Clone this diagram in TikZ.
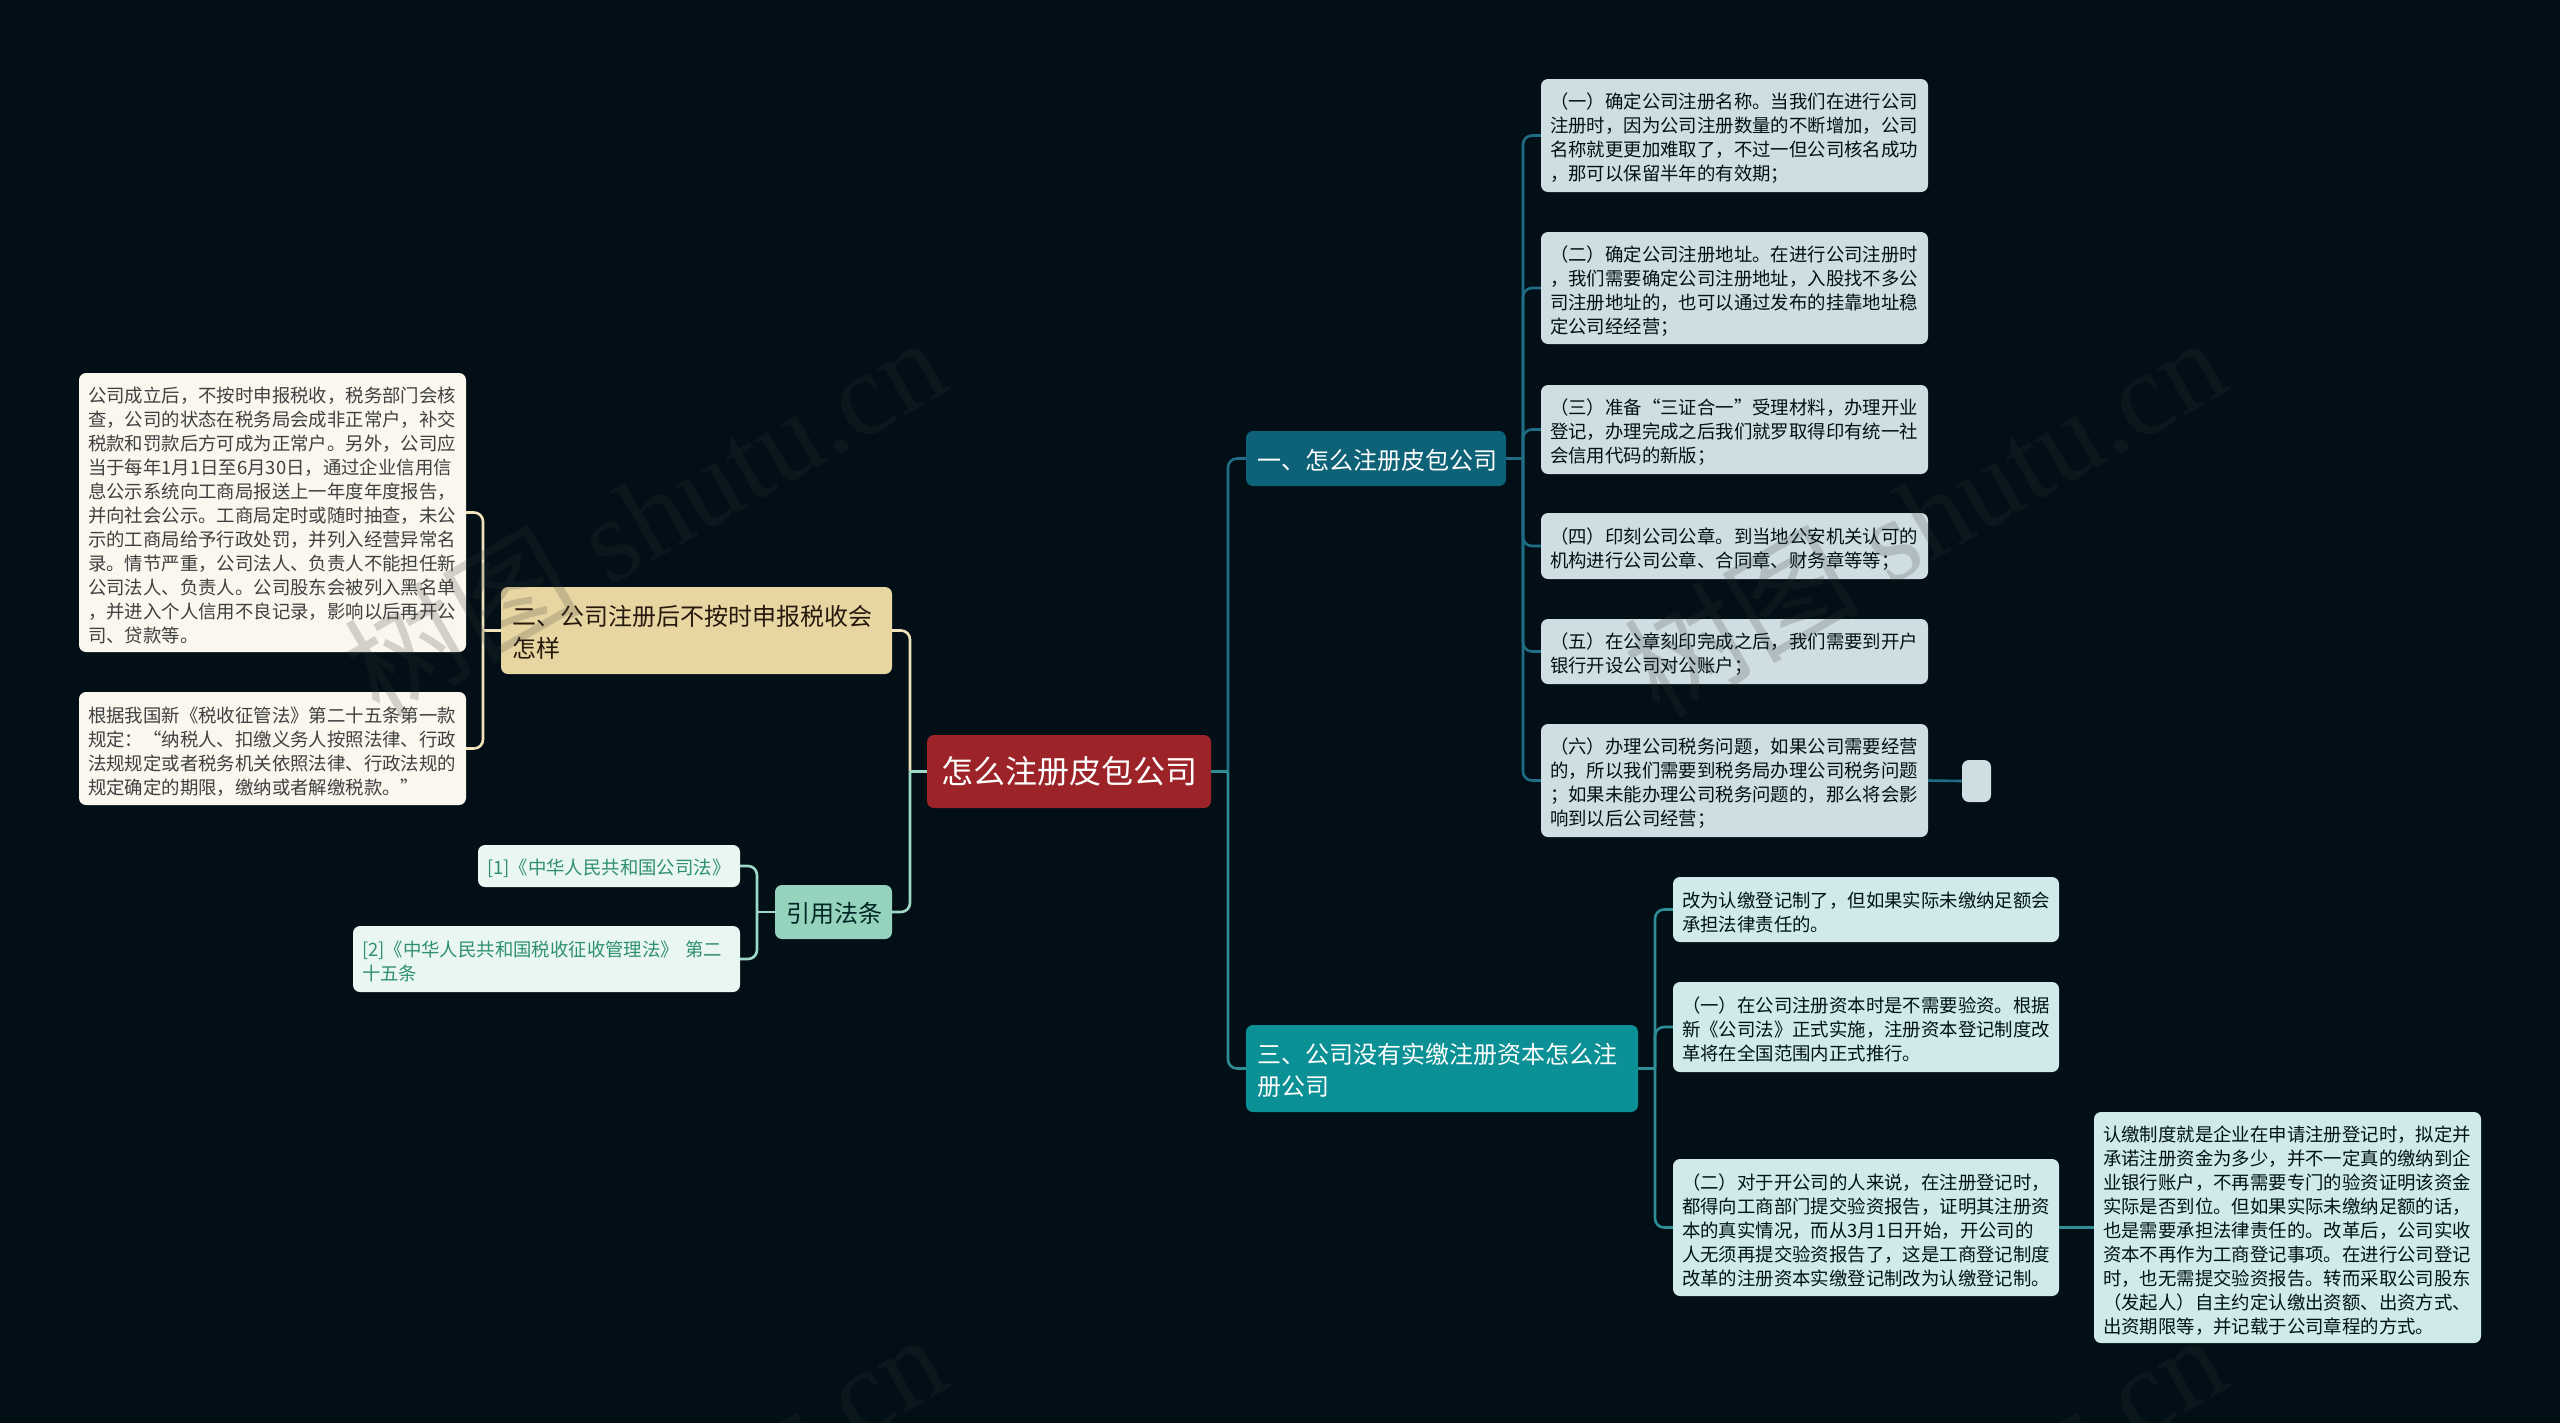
\documentclass[tikz,border=0pt]{standalone}
\usepackage{fontspec}
\setmainfont{Noto Sans CJK SC}
\newfontfamily\markfont{Liberation Serif}
\definecolor{pagebg}{HTML}{020F17}
\definecolor{rootred}{HTML}{9C2429}
\definecolor{tealdark}{HTML}{0D6278}
\definecolor{tealmid}{HTML}{0B9096}
\definecolor{sand}{HTML}{E8D6A2}
\definecolor{mint}{HTML}{95D3BC}
\definecolor{leafblue}{HTML}{CEDEE3}
\definecolor{leafaqua}{HTML}{D0E9EA}
\definecolor{leafcream}{HTML}{FAF7EF}
\definecolor{leafmint}{HTML}{E9F6F1}
\definecolor{lawtext}{HTML}{2F8F72}
\definecolor{linkdark}{HTML}{1F6D84}
\definecolor{linkmid}{HTML}{2F8D96}
\definecolor{linksand}{HTML}{F0E3BC}
\definecolor{linkmint}{HTML}{9ED8C6}
\tikzset{
	box/.style={rounded corners=7pt, align=left, inner ysep=0pt, inner xsep=9pt, text width=369pt,
		font=\fontsize{18.4}{24}\selectfont, execute at begin node={\rule{0pt}{21pt}}},
	leafa/.style={box, fill=leafblue, text=black!85!teal},
	leafb/.style={box, fill=leafaqua, text width=368pt, text=black!85!teal},
	leafl/.style={box, fill=leafcream, text=black!75},
	leafr/.style={box, fill=leafmint, text=lawtext},
	topic/.style={rounded corners=7pt, align=left, inner ysep=0pt, inner xsep=11pt,
		font=\fontsize{24}{32}\selectfont, execute at begin node={\rule{0pt}{24pt}}},
	linka/.style={draw=linkdark, line width=2.6pt, rounded corners=9pt},
	linkb/.style={draw=linkmid, line width=2.6pt, rounded corners=9pt},
	links/.style={draw=linksand, line width=2.6pt, rounded corners=9pt},
	linkm/.style={draw=linkmint, line width=2.6pt, rounded corners=9pt},
	wmark/.style={rotate=30, text=black!78, opacity=0.2, font=\fontsize{118}{118}\markfont},
}
\begin{document}
\begin{tikzpicture}[x=1pt, y=-1pt]
	\useasboundingbox (0,0) rectangle (2560,1422);
	\fill[pagebg] (-2,-2) rectangle (2562,1424);

	% Centre and first level
	\node[rounded corners=7pt, fill=rootred, text=white, font=\fontsize{32}{40}\selectfont, minimum width=284pt, minimum height=73pt, inner sep=0pt] (root) at (1069,771.5) {怎么注册皮包公司};
	\node[topic, fill=tealdark, text=white, minimum height=55pt, text width=238pt] (howto) at (1376,458.5) {一、怎么注册皮包公司};
	\node[topic, fill=tealmid, text=white, minimum height=87pt, text width=370pt] (capital) at (1442,1068.5) {三、公司没有实缴注册资本怎么注\\册公司};
	\node[topic, fill=sand, text=black!80!brown, minimum height=87pt, text width=369pt] (late) at (696.5,630.5) {二、公司注册后不按时申报税收会\\怎样};
	\node[topic, fill=mint, text=black!70!teal, minimum width=117pt, minimum height=54pt, text width=95pt] (laws) at (833.5,912) {引用法条};

	% Steps on the right
	\node[leafa, minimum height=113pt] (stepa) at (1734.5,135.5) {（一）确定公司注册名称。当我们在进行公司\\注册时，因为公司注册数量的不断增加，公司\\名称就更更加难取了，不过一但公司核名成功\\，那可以保留半年的有效期；};
	\node[leafa, minimum height=112pt] (stepb) at (1734.5,288) {（二）确定公司注册地址。在进行公司注册时\\，我们需要确定公司注册地址，入股找不多公\\司注册地址的，也可以通过发布的挂靠地址稳\\定公司经经营；};
	\node[leafa, minimum height=89pt] (stepc) at (1734.5,429.5) {（三）准备“三证合一”受理材料，办理开业\\登记，办理完成之后我们就罗取得印有统一社\\会信用代码的新版；};
	\node[leafa, minimum height=66pt] (stepd) at (1734.5,546) {（四）印刻公司公章。到当地公安机关认可的\\机构进行公司公章、合同章、财务章等等；};
	\node[leafa, minimum height=65pt] (stepe) at (1734.5,651.5) {（五）在公章刻印完成之后，我们需要到开户\\银行开设公司对公账户；};
	\node[leafa, minimum height=113pt] (stepf) at (1734.5,780.5) {（六）办理公司税务问题，如果公司需要经营\\的，所以我们需要到税务局办理公司税务问题\\；如果未能办理公司税务问题的，那么将会影\\响到以后公司经营；};
	\node[rounded corners=7pt, fill=leafblue, minimum width=29pt, minimum height=42pt, inner sep=0pt] (stepx) at (1976.5,781) {};

	% Capital notes
	\node[leafb, minimum height=65pt] (capa) at (1866,909.5) {改为认缴登记制了，但如果实际未缴纳足额会\\承担法律责任的。};
	\node[leafb, minimum height=90pt] (capb) at (1866,1027) {（一）在公司注册资本时是不需要验资。根据\\新《公司法》正式实施，注册资本登记制度改\\革将在全国范围内正式推行。};
	\node[leafb, minimum height=137pt] (capc) at (1866,1227.5) {（二）对于开公司的人来说，在注册登记时，\\都得向工商部门提交验资报告，证明其注册资\\本的真实情况，而从3月1日开始，开公司的\\人无须再提交验资报告了，这是工商登记制度\\改革的注册资本实缴登记制改为认缴登记制。};
	\node[leafb, text width=369pt, minimum height=231pt] (capd) at (2287.5,1227.5) {认缴制度就是企业在申请注册登记时，拟定并\\承诺注册资金为多少，并不一定真的缴纳到企\\业银行账户，不再需要专门的验资证明该资金\\实际是否到位。但如果实际未缴纳足额的话，\\也是需要承担法律责任的。改革后，公司实收\\资本不再作为工商登记事项。在进行公司登记\\时，也无需提交验资报告。转而采取公司股东\\（发起人）自主约定认缴出资额、出资方式、\\出资期限等，并记载于公司章程的方式。};

	% Left side
	\node[leafl, minimum height=279pt] (latea) at (272.5,512.5) {公司成立后，不按时申报税收，税务部门会核\\查，公司的状态在税务局会成非正常户，补交\\税款和罚款后方可成为正常户。另外，公司应\\当于每年1月1日至6月30日，通过企业信用信\\息公示系统向工商局报送上一年度年度报告，\\并向社会公示。工商局定时或随时抽查，未公\\示的工商局给予行政处罚，并列入经营异常名\\录。情节严重，公司法人、负责人不能担任新\\公司法人、负责人。公司股东会被列入黑名单\\，并进入个人信用不良记录，影响以后再开公\\司、贷款等。};
	\node[leafl, minimum height=113pt] (lateb) at (272.5,748.5) {根据我国新《税收征管法》第二十五条第一款\\规定：“纳税人、扣缴义务人按照法律、行政\\法规规定或者税务机关依照法律、行政法规的\\规定确定的期限，缴纳或者解缴税款。”};
	\node[leafr, text width=244pt, minimum height=42pt] (lawa) at (609,866) {[1]《中华人民共和国公司法》};
	\node[leafr, minimum height=66pt] (lawb) at (546.5,959) {[2]《中华人民共和国税收征收管理法》 第二\\十五条};

	% Trunks
	\coordinate (rootl) at (910,771.5);
	\coordinate (rootr) at (1228,771.5);
	\coordinate (howtor) at (1523,458.5);
	\coordinate (capitalr) at (1655,1068.5);
	\coordinate (latel) at (483,630.5);
	\coordinate (lawsl) at (757,912);

	% Connectors
	\draw[links] (rootl) |- (late.east);
	\draw[linkm] (rootl) |- (laws.east);
	\draw[linkm] (root.west) -- (rootl);
	\draw[linka] (rootr) |- (howto.west);
	\draw[linkb] (rootr) |- (capital.west);
	\draw[linkb] (root.east) -- (rootr);
	\foreach \kid in {stepa,stepb,stepc,stepd,stepe,stepf}
		\draw[linka] (howtor) |- (\kid.west);
	\draw[linka] (howto.east) -- (howtor);
	\draw[linka] (stepf.east) -- (stepx.west);
	\foreach \kid in {capa,capb,capc}
		\draw[linkb] (capitalr) |- (\kid.west);
	\draw[linkb] (capital.east) -- (capitalr);
	\draw[linkb] (capc.east) -- (capd.west);
	\foreach \kid in {latea,lateb}
		\draw[links] (latel) |- (\kid.east);
	\draw[links] (late.west) -- (latel);
	\foreach \kid in {lawa,lawb}
		\draw[linkm] (lawsl) |- (\kid.east);
	\draw[linkm] (laws.west) -- (lawsl);

	% Watermark tiles
	\begin{scope}
		\clip (0,0) rectangle (2560,1422);
		\node[wmark] (marka) at (644,515) {{\fontspec{Noto Sans CJK SC}树图} shutu.cn};
		\node[wmark] (markb) at (1924,515) {{\fontspec{Noto Sans CJK SC}树图} shutu.cn};
		\node[wmark] (markc) at (644,1512) {{\fontspec{Noto Sans CJK SC}树图} shutu.cn};
		\node[wmark] (markd) at (1924,1512) {{\fontspec{Noto Sans CJK SC}树图} shutu.cn};
	\end{scope}
\end{tikzpicture}
\end{document}
